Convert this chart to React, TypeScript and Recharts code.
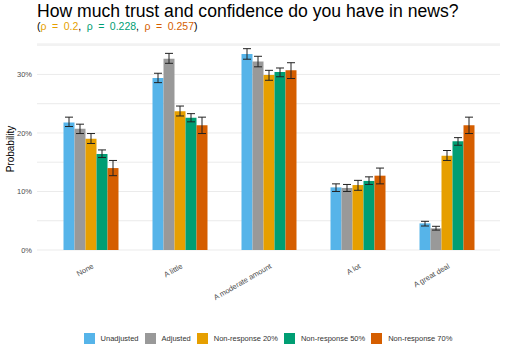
import React from 'react';
import { BarChart, Bar, XAxis, YAxis, CartesianGrid, ErrorBar, Legend } from 'recharts';

const categories = ['None', 'A little', 'A moderate amount', 'A lot', 'A great deal'];
const seriesNames = ['Unadjusted', 'Adjusted', 'Non-response 20%', 'Non-response 50%', 'Non-response 70%'];
const seriesKeys = ['unadj', 'adj', 'nr20', 'nr50', 'nr70'];
const colors = ['#56B4E9', '#999999', '#E69F00', '#009E73', '#D55E00'];

const unadjusted = [0.218, 0.294, 0.335, 0.107, 0.0455];
const unadjustedLow = [0.211, 0.286, 0.326, 0.100, 0.041];
const unadjustedHigh = [0.227, 0.302, 0.344, 0.113, 0.049];

const adjusted = [0.207, 0.327, 0.322, 0.106, 0.037];
const adjustedLow = [0.199, 0.319, 0.313, 0.100, 0.034];
const adjustedHigh = [0.215, 0.336, 0.331, 0.112, 0.0405];

const nr20 = [0.190, 0.237, 0.299, 0.111, 0.161];
const nr20Low = [0.182, 0.229, 0.290, 0.102, 0.153];
const nr20High = [0.199, 0.246, 0.307, 0.119, 0.170];

const nr50 = [0.164, 0.226, 0.304, 0.118, 0.186];
const nr50Low = [0.158, 0.219, 0.296, 0.112, 0.179];
const nr50High = [0.171, 0.233, 0.311, 0.125, 0.192];

const nr70 = [0.140, 0.213, 0.307, 0.127, 0.213];
const nr70Low = [0.127, 0.199, 0.293, 0.113, 0.199];
const nr70High = [0.153, 0.227, 0.320, 0.140, 0.227];

const yTicks = [0, 0.05, 0.1, 0.15, 0.2, 0.25, 0.3, 0.35];

const seriesValues = [unadjusted, adjusted, nr20, nr50, nr70];
const seriesLows = [unadjustedLow, adjustedLow, nr20Low, nr50Low, nr70Low];
const seriesHighs = [unadjustedHigh, adjustedHigh, nr20High, nr50High, nr70High];

const data = categories.map((cat, i) => {
  const row: any = { category: cat };
  seriesKeys.forEach((k, s) => {
    const v = seriesValues[s][i];
    row[k] = v;
    row[k + '_err'] = [v - seriesLows[s][i], seriesHighs[s][i] - v];
  });
  return row;
});

const FONT = '"Liberation Sans", Arial, sans-serif';

const XTick = (props: any) => {
  const { x, y, payload } = props;
  const tx = x + 1;
  const ty = y + 11;
  return (
    <text
      x={tx}
      y={ty}
      dy="0.71em"
      transform={`rotate(-30, ${tx}, ${ty})`}
      textAnchor="end"
      fontSize={7.5}
      fontFamily={FONT}
      fill="#4d4d4d"
    >
      {payload.value}
    </text>
  );
};

const YLabel = (props: any) => {
  const { viewBox } = props;
  const cy = viewBox.y + viewBox.height / 2 + 2;
  return (
    <text
      x={13.5}
      y={cy}
      transform={`rotate(-90, 13.5, ${cy})`}
      textAnchor="middle"
      fontSize={10}
      fontFamily={FONT}
      fill="#000"
    >
      Probability
    </text>
  );
};

const LegendContent = () => (
  <div
    style={{
      display: 'flex',
      justifyContent: 'center',
      alignItems: 'center',
      height: 14,
      fontFamily: FONT,
      fontSize: 7.5,
      color: '#333',
      paddingLeft: 30,
      boxSizing: 'border-box',
      width: 506,
    }}
  >
    {seriesNames.map((n, i) => (
      <div
        key={n}
        style={{ display: 'flex', alignItems: 'center', marginRight: i < seriesNames.length - 1 ? 6 : 0 }}
      >
        <div style={{ width: 11, height: 11, background: colors[i], marginRight: 6 }} />
        <span style={{ whiteSpace: 'nowrap' }}>{n}</span>
      </div>
    ))}
  </div>
);

export default function App() {
  return (
    <div style={{ position: 'absolute', left: 0, top: 0, width: 506, height: 354, background: '#fff' }}>
      <div style={{ position: 'absolute', left: 0, top: 0 }}>
        <BarChart
          width={506}
          height={354}
          data={data}
          margin={{ top: 44, right: 6, bottom: 9, left: 0 }}
          barCategoryGap={17.5}
          barGap={0}
        >
          <CartesianGrid vertical={false} stroke="#ebebeb" strokeWidth={1} />
          <XAxis
            dataKey="category"
            axisLine={false}
            tickLine={false}
            tickSize={0}
            interval={0}
            height={81}
            padding={{ left: 9, right: 9 }}
            tick={<XTick />}
          />
          <YAxis
            width={37}
            domain={[0, 0.352]}
            ticks={yTicks}
            interval={0}
            axisLine={false}
            tickLine={false}
            tickSize={0}
            tickMargin={5}
            tick={{ fontSize: 7.5, fill: '#4d4d4d', fontFamily: FONT }}
            tickFormatter={(v: number) => {
              const p = Math.round(v * 100);
              return p % 10 === 0 ? `${p}%` : '';
            }}
            label={<YLabel />}
          />
          <Legend
            verticalAlign="bottom"
            content={<LegendContent />}
            wrapperStyle={{ height: 14, left: 0, width: 506 }}
          />
          {seriesKeys.map((k, i) => (
            <Bar key={k} dataKey={k} name={seriesNames[i]} fill={colors[i]} isAnimationActive={false}>
              <ErrorBar dataKey={k + '_err'} width={4} stroke="#222" strokeWidth={1} direction="y" />
            </Bar>
          ))}
        </BarChart>
      </div>
      <svg
        width={506}
        height={40}
        style={{ position: 'absolute', left: 0, top: 0, pointerEvents: 'none' }}
      >
        <text x={37} y={16.5} fontSize={17.6} fontFamily={FONT} fill="#000">
          How much trust and confidence do you have in news?
        </text>
        <text x={37} y={30} fontSize={10.5} fontFamily={FONT} fill="#000" wordSpacing={2.6}>
          (<tspan fill="#E69F00">ρ = 0.2</tspan>, <tspan fill="#009E73">ρ = 0.228</tspan>,{' '}
          <tspan fill="#D55E00">ρ = 0.257</tspan>)
        </text>
      </svg>
    </div>
  );
}
